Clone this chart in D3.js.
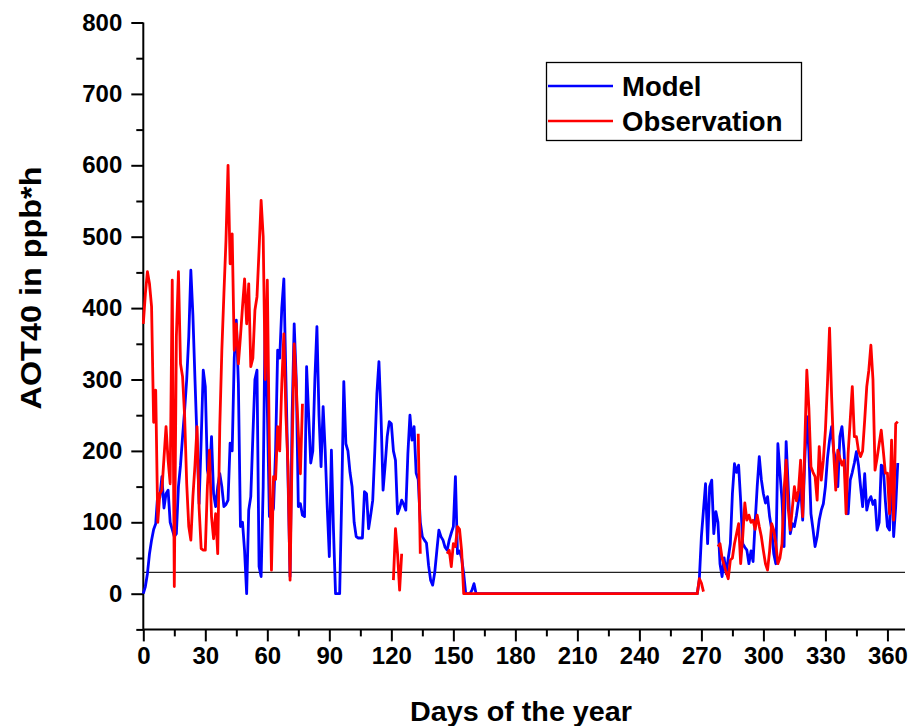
<!DOCTYPE html>
<html>
<head>
<meta charset="utf-8">
<script src="https://cdn.jsdelivr.net/npm/d3@7"></script>
<style>
  html, body { margin: 0; padding: 0; background: #ffffff; }
  svg { display: block; }
  text { font-family: "Liberation Sans", Arial, sans-serif; font-weight: bold; fill: #000; }
</style>
</head>
<body>
<svg id="chart" width="912" height="726"></svg>
<script>
// ---------------- DATA ----------------
// Model AOT40 (ppb*h) for days 0..365
const modelValues = [
  0,10,28,56,75,90,98,140,135,164,120,140,145,100,90,80,84,150,180,220,
  257,300,360,453,390,300,215,126,215,313,290,173,160,220,140,122,150,168,150,122,
  125,131,211,200,330,383,294,94,100,60,0,117,136,220,300,313,38,24,150,400,
  260,108,110,120,200,341,330,400,441,300,164,24,250,378,300,122,126,110,108,318,
  250,183,200,300,374,250,178,262,200,120,52,201,90,0,0,0,136,297,210,200,
  170,150,100,80,78,78,78,143,140,91,110,131,200,280,325,250,145,180,220,241,
  238,200,187,112,120,131,125,117,196,250,215,234,169,160,100,80,75,71,40,19,
  12,30,60,89,80,75,65,61,75,85,94,164,56,60,50,28,0,0,0,5,
  14,0,0,0,0,0,0,0,0,0,0,0,0,0,0,0,0,0,0,0,
  0,0,0,0,0,0,0,0,0,0,0,0,0,0,0,0,0,0,0,0,
  0,0,0,0,0,0,0,0,0,0,0,0,0,0,0,0,0,0,0,0,
  0,0,0,0,0,0,0,0,0,0,0,0,0,0,0,0,0,0,0,0,
  0,0,0,0,0,0,0,0,0,0,0,0,0,0,0,0,0,0,0,0,
  0,0,0,0,0,0,0,0,0,20,80,117,154,70,150,159,84,115,100,42,
  24,50,28,50,70,140,182,170,180,130,70,65,61,42,60,45,100,150,192,160,
  140,127,136,108,90,56,42,210,170,131,66,213,150,84,98,94,110,130,150,103,
  187,248,200,112,90,66,80,103,117,126,150,190,215,234,200,187,150,220,234,200,
  140,112,159,170,183,199,180,150,122,168,117,130,136,125,131,89,100,180,178,130,
  94,89,187,80,122,183
];
// Observation AOT40 (ppb*h) for days 0..365 (null = no data)
const obsValues = [
  378,420,451,434,402,240,285,100,140,145,190,234,187,154,439,10,360,451,322,304,
  248,154,94,75,136,180,234,120,63,61,61,150,201,108,77,112,56,234,341,420,
  495,600,462,504,341,378,322,360,402,441,378,434,318,330,397,416,481,551,500,300,
  439,201,33,164,160,234,200,294,364,250,178,19,200,350,290,225,168,266,null,null,
  null,null,null,null,null,null,null,null,null,null,null,null,null,null,null,null,null,null,null,null,
  null,null,null,null,null,null,null,null,null,null,null,null,null,null,null,null,null,null,null,null,
  null,19,91,56,5,56,null,null,null,null,null,null,null,224,56,null,null,null,null,null,
  null,null,null,null,null,null,null,56,61,38,70,66,94,90,60,0,0,0,0,0,
  0,0,0,0,0,0,0,0,0,0,0,0,0,0,0,0,0,0,0,0,
  0,0,0,0,0,0,0,0,0,0,0,0,0,0,0,0,0,0,0,0,
  0,0,0,0,0,0,0,0,0,0,0,0,0,0,0,0,0,0,0,0,
  0,0,0,0,0,0,0,0,0,0,0,0,0,0,0,0,0,0,0,0,
  0,0,0,0,0,0,0,0,0,0,0,0,0,0,0,0,0,0,0,0,
  0,0,0,0,0,0,0,0,0,21,15,3,null,null,null,null,null,null,66,70,
  50,40,30,21,47,50,70,84,98,42,80,127,103,110,100,103,90,110,94,80,
  60,42,33,60,98,89,70,42,50,70,145,187,120,89,120,150,130,145,187,108,
  206,313,260,178,170,164,131,206,159,187,229,295,372,276,197,145,201,190,180,187,
  112,197,243,290,220,220,200,192,200,243,290,313,348,300,173,190,210,229,200,169,
  169,112,215,103,238,241
];
const thresholdValue = 30;
const xTickValues = [0,30,60,90,120,150,180,210,240,270,300,330,360];
const xMinorTicks = [15,45,75,105,135,165,195,225,255,285,315,345];
const yTickValues = [0,100,200,300,400,500,600,700,800];
const yMinorTicks = [-50,50,150,250,350,450,550,650,750];
const seriesNames = ["Model","Observation"];
const seriesColors = ["#0000ff","#ff0000"];

// ---------------- CHART ----------------
const svg = d3.select("#chart");
const x = d3.scaleLinear().domain([0, 368.5]).range([143.3, 905]);
const y = d3.scaleLinear().domain([-50, 800]).range([629.4, 22.5]);

const modelData = modelValues.map((v, i) => ({day: i, v}));
const obsData = obsValues.map((v, i) => ({day: i, v}));

// Axes
const xAxis = svg.append("g").attr("transform", `translate(0,${y(-50)})`)
  .call(d3.axisBottom(x).tickValues(xTickValues).tickSize(12).tickPadding(6).tickFormat(d3.format("d")));
const xMinor = svg.append("g").attr("transform", `translate(0,${y(-50)})`)
  .call(d3.axisBottom(x).tickValues(xMinorTicks).tickSize(7).tickFormat(""));
const yAxis = svg.append("g").attr("transform", `translate(${x(0)},0)`)
  .call(d3.axisLeft(y).tickValues(yTickValues).tickSize(12).tickPadding(9).tickFormat(d3.format("d")));
const yMinor = svg.append("g").attr("transform", `translate(${x(0)},0)`)
  .call(d3.axisLeft(y).tickValues(yMinorTicks).tickSize(7).tickFormat(""));

[xAxis, xMinor, yAxis, yMinor].forEach(g => {
  g.select(".domain").attr("stroke", "#000").attr("stroke-width", 2);
  g.selectAll(".tick line").attr("stroke", "#000").attr("stroke-width", 2);
  g.selectAll(".tick text").attr("font-size", 24).attr("font-family", "Liberation Sans, Arial, sans-serif").attr("font-weight", "bold").attr("fill", "#000");
});
xMinor.select(".domain").remove();
yMinor.select(".domain").remove();
xAxis.select(".domain").attr("d", `M${x(0)},0H${x(368.5)}`);
yAxis.select(".domain").attr("d", `M0,${y(-50)}V${y(800)}`);

// Threshold line
svg.append("line")
  .attr("x1", x(0)).attr("x2", x(368.5))
  .attr("y1", y(thresholdValue)).attr("y2", y(thresholdValue))
  .attr("stroke", "#222").attr("stroke-width", 1.3);

// Lines
const line = d3.line()
  .defined(d => d.v !== null)
  .x(d => x(d.day)).y(d => y(d.v));

svg.append("path").datum(modelData)
  .attr("fill", "none").attr("stroke", seriesColors[0]).attr("stroke-width", 2.8)
  .attr("stroke-linejoin", "round").attr("d", line);
svg.append("path").datum(obsData)
  .attr("fill", "none").attr("stroke", seriesColors[1]).attr("stroke-width", 2.8)
  .attr("stroke-linejoin", "round").attr("d", line);

// Axis titles
svg.append("text")
  .attr("x", 521).attr("y", 721)
  .attr("text-anchor", "middle").attr("font-size", 28)
  .attr("textLength", 222).attr("lengthAdjust", "spacingAndGlyphs")
  .text("Days of the year");
svg.append("text")
  .attr("transform", "translate(41,288) rotate(-90)")
  .attr("text-anchor", "middle").attr("font-size", 29)
  .attr("textLength", 243).attr("lengthAdjust", "spacingAndGlyphs")
  .text("AOT40 in ppb*h");

// Legend
const legend = svg.append("g");
legend.append("rect").attr("x", 546.5).attr("y", 62.5).attr("width", 255).attr("height", 78)
  .attr("fill", "#fff").attr("stroke", "#000").attr("stroke-width", 1.3);
seriesNames.forEach((name, i) => {
  const ly = 86 + i * 35;
  legend.append("line").attr("x1", 548).attr("x2", 613).attr("y1", ly).attr("y2", ly)
    .attr("stroke", seriesColors[i]).attr("stroke-width", 2.4);
  legend.append("text").attr("x", 622).attr("y", ly + 10).attr("font-size", 27.5).text(name);
});
</script>
</body>
</html>
